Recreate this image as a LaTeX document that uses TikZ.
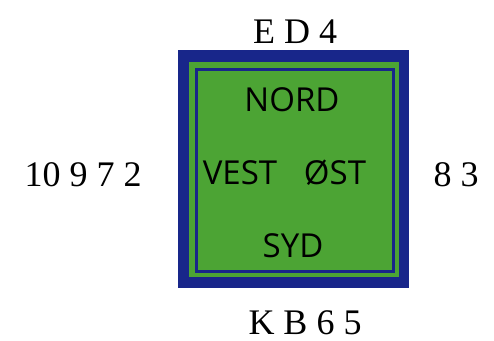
\documentclass[tikz,border=0pt]{standalone}
\usepackage{fontspec}
\setmainfont{Liberation Serif}
\newfontfamily\boardfont{Open Sans}
\usetikzlibrary{positioning}

\definecolor{boardblue}{RGB}{24,38,138}
\definecolor{feltgreen}{RGB}{76,164,52}

\begin{document}
\begin{tikzpicture}[x=1pt,y=1pt,
  every node/.style={inner sep=0pt,outer sep=0pt},
  hand/.style={font=\fontsize{36}{36}\selectfont},
  seat/.style={font=\boardfont\fontsize{33}{33}\selectfont},
]
\useasboundingbox (0,0) rectangle (494,-340);

% the table
\node[fill=boardblue,minimum width=231pt,minimum height=238pt] (board) at (293,-169) {};
\node[fill=feltgreen,minimum width=210pt,minimum height=215pt] (felt) at (294,-169.5) {};
\node[draw=boardblue,line width=3pt,minimum width=197pt,minimum height=202pt] (rim) at (294.5,-170) {};

% seats
\node[seat] (nord) at (292,-100) {NORD};
\node[seat] (syd) at (293,-246) {SYD};
\node[seat] (vest) at (240,-173) {VEST};
\node[seat] (oest) at (335,-173) {ØST};

% hands
\node[hand] (north) at (295,-32) {E D 4};
\node[hand] (south) at (305,-323) {K B 6 5};
\node[hand] (west) at (83,-175) {10 9 7 2};
\node[hand] (east) at (456,-175) {8 3};
\end{tikzpicture}
\end{document}
